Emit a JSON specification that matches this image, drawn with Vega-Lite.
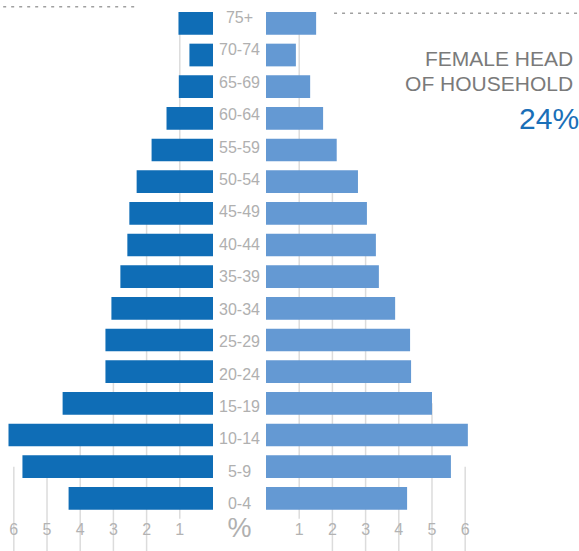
{
  "$schema": "https://vega.github.io/schema/vega-lite/v6.json",
  "padding": 0,
  "spacing": 0,
  "config": {"view": {"stroke": null}, "font": "Liberation Sans", "concat": {"spacing": 0}},
  "datasets": {
    "pyramid": [
      {"age": "75+", "male": 1.04, "female": 1.51},
      {"age": "70-74", "male": 0.71, "female": 0.90},
      {"age": "65-69", "male": 1.03, "female": 1.33},
      {"age": "60-64", "male": 1.40, "female": 1.72},
      {"age": "55-59", "male": 1.85, "female": 2.13},
      {"age": "50-54", "male": 2.30, "female": 2.77},
      {"age": "45-49", "male": 2.52, "female": 3.04},
      {"age": "40-44", "male": 2.58, "female": 3.31},
      {"age": "35-39", "male": 2.79, "female": 3.40},
      {"age": "30-34", "male": 3.06, "female": 3.89},
      {"age": "25-29", "male": 3.24, "female": 4.34},
      {"age": "20-24", "male": 3.24, "female": 4.37},
      {"age": "15-19", "male": 4.53, "female": 5.00},
      {"age": "10-14", "male": 6.16, "female": 6.08},
      {"age": "5-9", "male": 5.74, "female": 5.57},
      {"age": "0-4", "male": 4.35, "female": 4.25}
    ],
    "gridLeft": [
      {"v": 1, "from": "75+"},
      {"v": 2, "from": "45-49"},
      {"v": 3, "from": "20-24"},
      {"v": 4, "from": "10-14"},
      {"v": 5, "from": "5-9"},
      {"v": 6, "from": "5-9"}
    ],
    "gridRight": [
      {"v": 1, "from": "75+"},
      {"v": 2, "from": "50-54"},
      {"v": 3, "from": "40-44"},
      {"v": 4, "from": "20-24"},
      {"v": 5, "from": "15-19"},
      {"v": 6, "from": "5-9"}
    ],
    "ticks": [{"v": 1}, {"v": 2}, {"v": 3}, {"v": 4}, {"v": 5}, {"v": 6}],
    "header": [{"label": "FEMALE HEAD\nOF HOUSEHOLD", "share": "24%"}]
  },
  "resolve": {"scale": {"x": "independent", "y": "independent"}},
  "hconcat": [
    {
      "width": 213,
      "height": 551,
      "layer": [
        {
          "data": {"name": "gridLeft"},
          "transform": [{"filter": "datum.v == 1"}],
          "mark": {"type": "rule", "color": "#dcdcdc", "strokeWidth": 1.5},
          "encoding": {
            "x": {"field": "v", "type": "quantitative", "axis": null, "scale": {"domain": [0, 6.416], "reverse": true, "nice": false, "zero": true}},
            "y": {"field": "from", "type": "nominal", "axis": null, "bandPosition": 0.5,
                  "scale": {"domain": ["75+","70-74","65-69","60-64","55-59","50-54","45-49","40-44","35-39","30-34","25-29","20-24","15-19","10-14","5-9","0-4","%"], "paddingInner": 0.2832, "paddingOuter": 0.3415, "align": 0.5548}},
            "y2": {"datum": "%", "bandPosition": 0}
          }
        },
        {
          "data": {"name": "gridLeft"},
          "transform": [{"filter": "datum.v > 1"}],
          "mark": {"type": "rule", "color": "#dcdcdc", "strokeWidth": 1.5},
          "encoding": {
            "x": {"field": "v", "type": "quantitative", "axis": null},
            "y": {"field": "from", "type": "nominal", "axis": null, "bandPosition": 0.5},
            "y2": {"datum": "%", "bandPosition": 1.42}
          }
        },
        {
          "data": {"name": "pyramid"},
          "mark": {"type": "bar", "color": "#0f6db6"},
          "encoding": {
            "x": {"field": "male", "type": "quantitative", "axis": null},
            "y": {"field": "age", "type": "nominal", "axis": null}
          }
        },
        {
          "data": {"name": "ticks"},
          "mark": {"type": "text", "fontSize": 16, "color": "#b3b3b3", "baseline": "alphabetic", "align": "center"},
          "encoding": {
            "x": {"field": "v", "type": "quantitative", "axis": null},
            "y": {"datum": "%", "bandPosition": 0.72},
            "text": {"field": "v", "type": "quantitative"}
          }
        },
        {
          "data": {"values": [{}]},
          "mark": {"type": "rule", "color": "#a0a0a0", "strokeWidth": 1.5, "strokeDash": [3, 5]},
          "encoding": {
            "x": {"datum": 6.32},
            "x2": {"datum": 2.35},
            "y": {"datum": "75+", "bandPosition": -0.23}
          }
        }
      ]
    },
    {
      "width": 53,
      "height": 551,
      "layer": [
        {
          "data": {"name": "pyramid"},
          "mark": {"type": "text", "fontSize": 16, "color": "#b0b0b0", "baseline": "middle", "align": "center"},
          "encoding": {
            "y": {"field": "age", "type": "nominal", "axis": null,
                  "scale": {"domain": ["75+","70-74","65-69","60-64","55-59","50-54","45-49","40-44","35-39","30-34","25-29","20-24","15-19","10-14","5-9","0-4","%"], "paddingInner": 0.2832, "paddingOuter": 0.3415, "align": 0.5548}},
            "text": {"field": "age"}
          }
        },
        {
          "data": {"values": [{}]},
          "mark": {"type": "text", "fontSize": 27, "color": "#b0b0b0", "baseline": "alphabetic", "align": "center"},
          "encoding": {
            "y": {"datum": "%", "bandPosition": 0.94},
            "text": {"value": "%"}
          }
        }
      ]
    },
    {
      "width": 313,
      "height": 551,
      "layer": [
        {
          "data": {"name": "gridRight"},
          "transform": [{"filter": "datum.v == 1"}],
          "mark": {"type": "rule", "color": "#dcdcdc", "strokeWidth": 1.5},
          "encoding": {
            "x": {"field": "v", "type": "quantitative", "axis": null, "scale": {"domain": [0, 9.428], "nice": false, "zero": true}},
            "y": {"field": "from", "type": "nominal", "axis": null, "bandPosition": 0.5,
                  "scale": {"domain": ["75+","70-74","65-69","60-64","55-59","50-54","45-49","40-44","35-39","30-34","25-29","20-24","15-19","10-14","5-9","0-4","%"], "paddingInner": 0.2832, "paddingOuter": 0.3415, "align": 0.5548}},
            "y2": {"datum": "%", "bandPosition": 0}
          }
        },
        {
          "data": {"name": "gridRight"},
          "transform": [{"filter": "datum.v > 1"}],
          "mark": {"type": "rule", "color": "#dcdcdc", "strokeWidth": 1.5},
          "encoding": {
            "x": {"field": "v", "type": "quantitative", "axis": null},
            "y": {"field": "from", "type": "nominal", "axis": null, "bandPosition": 0.5},
            "y2": {"datum": "%", "bandPosition": 1.42}
          }
        },
        {
          "data": {"name": "pyramid"},
          "mark": {"type": "bar", "color": "#6499d3"},
          "encoding": {
            "x": {"field": "female", "type": "quantitative", "axis": null},
            "y": {"field": "age", "type": "nominal", "axis": null}
          }
        },
        {
          "data": {"name": "ticks"},
          "mark": {"type": "text", "fontSize": 16, "color": "#b3b3b3", "baseline": "alphabetic", "align": "center"},
          "encoding": {
            "x": {"field": "v", "type": "quantitative", "axis": null},
            "y": {"datum": "%", "bandPosition": 0.72},
            "text": {"field": "v", "type": "quantitative"}
          }
        },
        {
          "data": {"values": [{}]},
          "mark": {"type": "rule", "color": "#a0a0a0", "strokeWidth": 1.5, "strokeDash": [3, 5]},
          "encoding": {
            "x": {"datum": 2.05},
            "x2": {"datum": 9.43},
            "y": {"datum": "75+", "bandPosition": 0.06}
          }
        },
        {
          "data": {"name": "header"},
          "mark": {"type": "text", "fontSize": 21, "color": "#7a7a7a", "align": "right", "baseline": "alphabetic", "lineBreak": "\n", "lineHeight": 25},
          "encoding": {
            "x": {"datum": 9.25},
            "y": {"datum": "70-74", "bandPosition": 1},
            "text": {"field": "label"}
          }
        },
        {
          "data": {"name": "header"},
          "mark": {"type": "text", "fontSize": 30, "color": "#1a6fb8", "align": "right", "baseline": "alphabetic"},
          "encoding": {
            "x": {"datum": 9.43},
            "y": {"datum": "60-64", "bandPosition": 0.98},
            "text": {"field": "share"}
          }
        }
      ]
    }
  ]
}
